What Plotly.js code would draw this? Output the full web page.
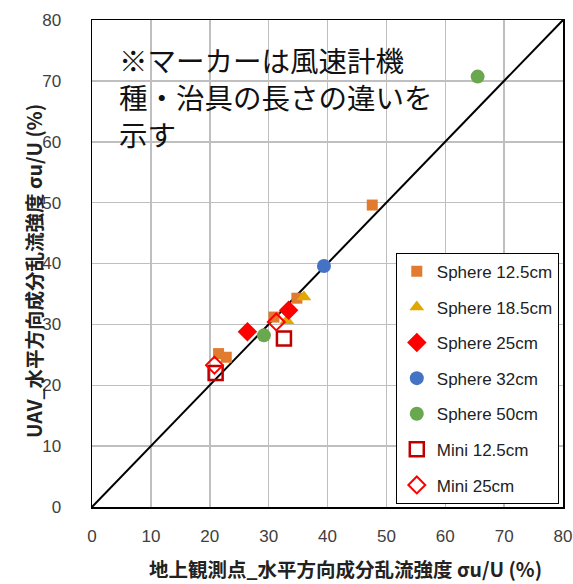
<!DOCTYPE html>
<html>
<head>
<meta charset="utf-8">
<script src="https://cdn.plot.ly/plotly-3.0.1.min.js"></script>
<style>html,body{margin:0;padding:0;background:#fff;}#chart{width:573px;height:584px;}</style>
</head>
<body>
<div id="chart"></div>
<script>
// Series data (x: ground station σu/U %, y: UAV σu/U %)
const sphere125X = [47.6, 34.8, 30.9, 21.5, 22.8];
const sphere125Y = [49.6, 34.3, 31.2, 25.2, 24.6];
const sphere185X = [36.0, 33.1];
const sphere185Y = [34.5, 30.6];
const sphere25X = [33.4, 26.4];
const sphere25Y = [32.3, 28.8];
const sphere32X = [39.4];
const sphere32Y = [39.6];
const sphere50X = [65.5, 29.2];
const sphere50Y = [70.7, 28.2];
const mini125X = [32.6, 21.0];
const mini125Y = [27.7, 22.0];
const mini25X = [31.3, 20.8];
const mini25Y = [30.4, 23.3];
const refLine = [0, 80];
const tickVals = [0, 10, 20, 30, 40, 50, 60, 70, 80];
const seriesNames = ["Sphere 12.5cm", "Sphere 18.5cm", "Sphere 25cm", "Sphere 32cm", "Sphere 50cm", "Mini 12.5cm", "Mini 25cm"];
const xTitle = "地上観測点_水平方向成分乱流強度 σu/U (%)";
const yTitle = "UAV_水平方向成分乱流強度 σu/U (%)";
const noteText = "※マーカーは風速計機<br>種・治具の長さの違いを<br>示す";

const cjk = '"Noto Sans CJK JP", "Noto Sans", sans-serif';

function sc(x, y, name, marker, g) {
  return {x: x, y: y, name: name, type: 'scatter', mode: 'markers', marker: marker, legendgroup: g, cliponaxis: false};
}

const traces = [
  {x: refLine, y: refLine, type: 'scatter', mode: 'lines', line: {color: '#000', width: 2}, showlegend: false, hoverinfo: 'skip'},
  sc(sphere125X, sphere125Y, seriesNames[0], {symbol: 'square', size: 11, color: '#E07B2F'}, 'g1'),
  sc(sphere185X, sphere185Y, seriesNames[1], {symbol: 'triangle-up', size: 13, color: '#E0A800'}, 'g2'),
  sc(sphere25X, sphere25Y, seriesNames[2], {symbol: 'diamond', size: 15, color: '#FF0000'}, 'g3'),
  sc(sphere32X, sphere32Y, seriesNames[3], {symbol: 'circle', size: 14, color: '#4472C4'}, 'g4'),
  sc(sphere50X, sphere50Y, seriesNames[4], {symbol: 'circle', size: 14, color: '#6AA84F'}, 'g5'),
  sc(mini125X, mini125Y, seriesNames[5], {symbol: 'square-open', size: 14, color: '#C00000', line: {width: 2.5}}, 'g6'),
  sc(mini25X, mini25Y, seriesNames[6], {symbol: 'diamond-open', size: 13, color: '#FF0000', line: {width: 2}}, 'g7')
];

const axisCommon = {
  range: [0, 80], tickvals: tickVals, showgrid: true, gridcolor: '#BFBFBF', gridwidth: 1.5,
  zeroline: false, showline: true, linecolor: '#000', linewidth: 1.5, mirror: true,
  ticks: '', tickfont: {family: 'Liberation Sans, sans-serif', size: 17, color: '#404040'}, fixedrange: true,
  automargin: false
};

const layout = {
  width: 573, height: 584,
  margin: {l: 92, r: 10, t: 20, b: 77, autoexpand: false},
  paper_bgcolor: '#fff', plot_bgcolor: '#fff',
  showlegend: true,
  xaxis: Object.assign({}, axisCommon, {ticklabelstandoff: 13}),
  yaxis: Object.assign({}, axisCommon, {ticklabelstandoff: 26}),
  legend: {
    x: 0.645, y: 0.522, xanchor: 'left', yanchor: 'top',
    bgcolor: '#fff', bordercolor: '#000', borderwidth: 1,
    font: {family: 'Liberation Sans, sans-serif', size: 17, color: '#222'},
    tracegroupgap: 10.5, itemwidth: 30
  },
  annotations: [
    {
      xref: 'paper', yref: 'paper', x: 0.053, y: 0.842, xanchor: 'left', yanchor: 'middle',
      text: noteText, showarrow: false, align: 'left',
      font: {family: cjk, size: 28.5, color: '#111'}
    },
    {
      xref: 'paper', yref: 'paper', x: (345 - 92) / 471, y: -(568 - 507) / 487, xanchor: 'center', yanchor: 'middle',
      text: '<b>' + xTitle + '</b>', showarrow: false,
      font: {family: cjk, size: 19.5, color: '#222'}
    },
    {
      xref: 'paper', yref: 'paper', x: -(92 - 33) / 471, y: (507 - 271) / 487, xanchor: 'center', yanchor: 'middle',
      text: '<b>' + yTitle + '</b>', showarrow: false, textangle: -90,
      font: {family: cjk, size: 19.5, color: '#222'}
    }
  ]
};

Plotly.newPlot('chart', traces, layout, {displayModeBar: false, staticPlot: true});
</script>
</body>
</html>
